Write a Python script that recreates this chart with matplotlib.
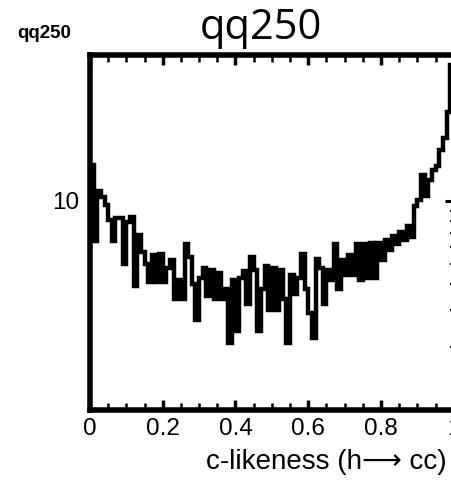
import numpy as np
import matplotlib
matplotlib.use("Agg")
import matplotlib.pyplot as plt
from matplotlib.ticker import FixedLocator, NullFormatter, NullLocator

plt.rcParams['font.family'] = ['Liberation Sans', 'DejaVu Sans']

# c-likeness histogram, 100 bins between 0 and 1
bin_edges = np.linspace(0.0, 1.0, 101)
counts = [
    14.8, 6.4, 11.1, 10.4, 9.6, 8.1, 6.4, 8.3, 8.3, 5.0,
    7.9, 8.4, 3.9, 6.9, 5.7, 5.0, 4.1, 5.5, 4.1, 5.6,
    4.1, 4.8, 5.2, 3.4, 4.2, 3.4, 6.2, 5.4, 4.0, 2.7,
    4.3, 4.8, 3.5, 4.7, 3.4, 4.5, 3.4, 3.8, 2.1, 4.2,
    2.4, 4.3, 4.6, 3.2, 5.4, 4.7, 2.4, 3.8, 4.9, 3.0,
    4.8, 3.0, 4.7, 3.4, 2.1, 4.4, 3.6, 4.3, 5.6, 3.8,
    2.9, 2.2, 5.3, 4.8, 3.2, 4.7, 4.2, 6.2, 3.8, 5.2,
    4.4, 5.5, 4.4, 6.2, 4.2, 6.2, 4.3, 6.3, 4.3, 6.3,
    5.2, 6.5, 5.8, 6.8, 6.2, 7.1, 6.5, 7.6, 6.7, 9.5,
    10.1, 13.3, 10.6, 12.6, 14.1, 14.7, 17.5, 20.0, 26.5, 44.5,
]
x_ticks = [0, 0.2, 0.4, 0.6, 0.8, 1]
x_ticklabels = ['0', '0.2', '0.4', '0.6', '0.8', '1']
y_ticks = [10]
neighbour_minor = [2, 3, 4, 5, 6, 7, 8, 9]

fig = plt.figure(figsize=(4.52, 4.8), dpi=100)
ax = fig.add_axes([0.199, 0.1458, 0.805, 0.740])

ax.stairs(counts, bin_edges, baseline=None, color='black', lw=3.2)

ax.set_yscale('log')
ax.set_xlim(0, 1)
ax.set_ylim(1.0, 50)

for s in ['left', 'bottom', 'top']:
    ax.spines[s].set_linewidth(4.0)
ax.spines['right'].set_visible(False)

ax.set_xticks(x_ticks)
ax.set_xticklabels(x_ticklabels)
ax.xaxis.set_minor_locator(FixedLocator(np.arange(0.05, 1.0, 0.05)))
ax.tick_params(axis='x', which='major', direction='in', length=7, width=2.5,
               top=True, labelsize=17.5, pad=6)
ax.tick_params(axis='x', which='minor', direction='in', length=5, width=1.8,
               top=True)

ax.yaxis.set_major_locator(FixedLocator(y_ticks))
ax.yaxis.set_minor_locator(NullLocator())
ax.set_yticklabels(['10'])
ax.tick_params(axis='y', which='major', length=0, labelsize=17.5, pad=8)

ax.set_xlabel('c-likeness (h\u27f6 cc)', fontsize=20, ha='right')
ax.xaxis.set_label_coords(0.981, -0.146)
ax.xaxis.label.set_va('center')

# left axis ticks of the next panel peeking in at the right edge
nb = fig.add_axes([455 / 452, 0.1458, 0.3, 0.740])
nb.set_yscale('log')
nb.set_ylim(1.0, 50)
nb.set_xticks([])
for s in nb.spines.values():
    s.set_visible(False)
nb.patch.set_visible(False)
nb.yaxis.set_major_locator(FixedLocator(y_ticks))
nb.yaxis.set_minor_locator(FixedLocator(neighbour_minor))
nb.yaxis.set_major_formatter(NullFormatter())
nb.yaxis.set_minor_formatter(NullFormatter())
nb.tick_params(axis='y', which='major', direction='out', length=7.5, width=2.2)
nb.tick_params(axis='y', which='minor', direction='out', length=3.8, width=1.6)

fig.text(261 / 452, 1 - 28 / 480, 'qq250', fontsize=30, ha='center', va='center',
         family=['Open Sans', 'DejaVu Sans'])
fig.text(17 / 452, 1 - 33 / 480, 'qq250', fontsize=13.5, fontweight='bold',
         ha='left', va='center')

fig.savefig('out.png', dpi=100)
